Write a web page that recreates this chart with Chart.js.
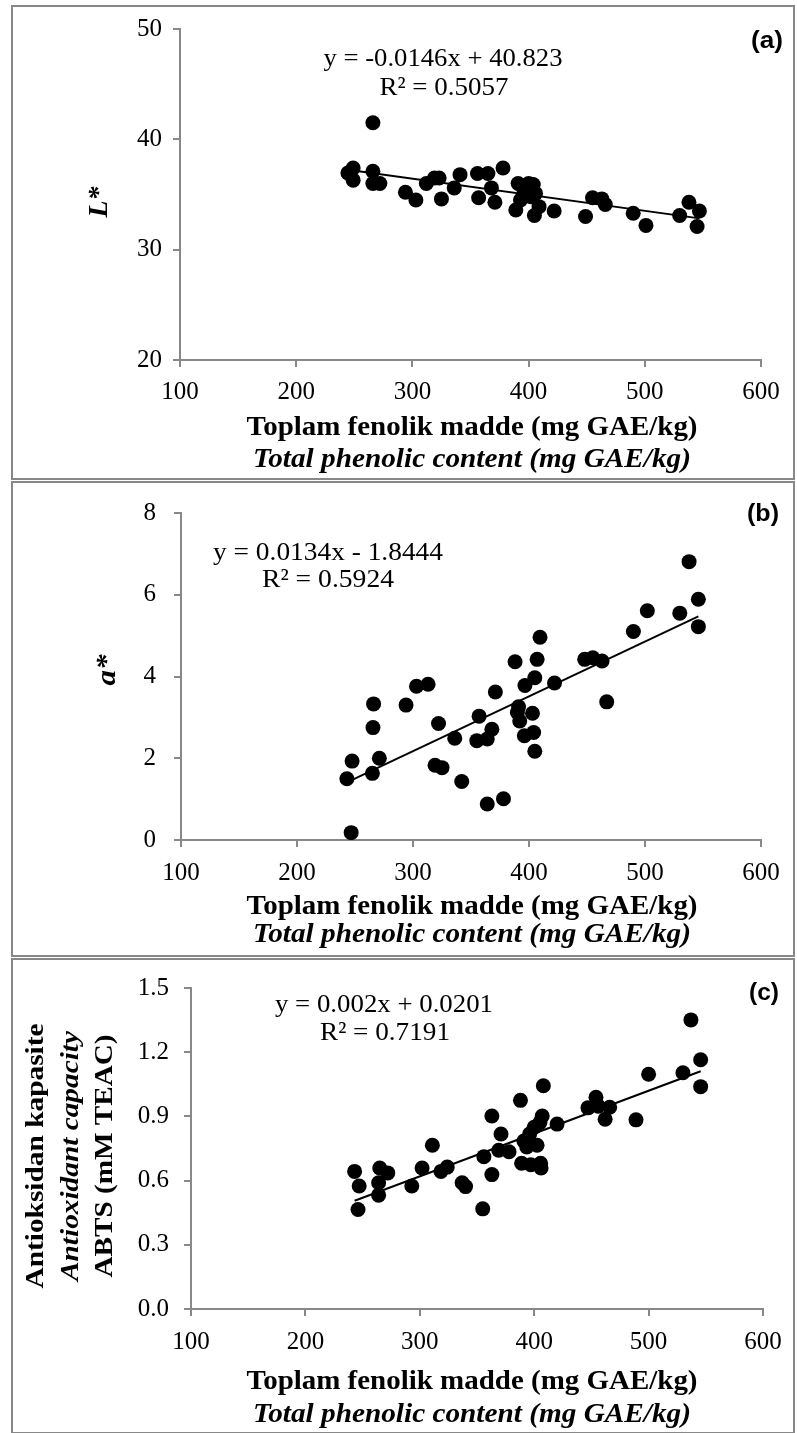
<!DOCTYPE html>
<html>
<head>
<meta charset="utf-8">
<script src="https://cdn.jsdelivr.net/npm/chart.js@4.4.0/dist/chart.umd.min.js"></script>
<style>
  body { margin: 0; background: #fff; width: 797px; height: 1433px; position: relative; overflow: hidden; }
  .box { position: absolute; border: 2px solid #888; box-sizing: border-box; }
  canvas { position: absolute; left: 0; }
</style>
</head>
<body>
<div class="box" style="left:11px;top:5px;width:784px;height:475px"></div>
<div class="box" style="left:11px;top:481px;width:784px;height:476px"></div>
<div class="box" style="left:11px;top:958px;width:784px;height:476px"></div>
<canvas id="chartL" width="797" height="480" style="top:0px"></canvas>
<canvas id="chartA" width="797" height="478" style="top:480px"></canvas>
<canvas id="chartAbts" width="797" height="475" style="top:958px"></canvas>
<script>
// tick labels
const xTicks = [100, 200, 300, 400, 500, 600];
const lTicks = [20, 30, 40, 50];
const aTicks = [0, 2, 4, 6, 8];
const abtsTicks = [0, 0.3, 0.6, 0.9, 1.2, 1.5];

// (a) L* vs total phenolic content
const phenolL = [244.5, 249, 249, 266, 266, 266, 272, 294, 303, 312, 319, 323, 325, 336, 341, 356, 357, 365, 368, 371, 378,
  389, 391, 393, 396, 400, 404, 402, 406, 405, 409, 422, 449, 455, 463, 466, 490, 501, 530, 538, 547, 545];
const lValues = [36.95, 37.4, 36.3, 41.5, 37.1, 36.0, 36.0, 35.2, 34.5, 36.0, 36.5, 36.5, 34.6, 35.6, 36.8, 36.9, 34.7, 36.9, 35.6, 34.3, 37.4,
  33.6, 36.0, 34.5, 35.4, 36.0, 35.9, 34.8, 35.1, 33.1, 33.9, 33.5, 33.0, 34.7, 34.6, 34.1, 33.3, 32.2, 33.1, 34.3, 33.5, 32.1];
const fitL = [-0.0146, 40.823];

// (b) a* vs total phenolic content
const phenolA = [243, 246.7, 247.5, 265, 265.5, 266, 271, 294, 303, 313, 319, 325, 322, 336, 342, 355, 357, 364, 364, 368, 371, 378,
  388, 390, 391, 392, 396, 396.5, 403, 404, 405, 405, 407, 409.5, 422, 448, 455, 463, 467, 490, 502, 530, 538, 546, 546];
const aValues = [1.50, 0.18, 1.93, 1.63, 2.75, 3.33, 2.0, 3.30, 3.76, 3.81, 1.83, 1.77, 2.85, 2.49, 1.43, 2.43, 3.03, 2.47, 0.88, 2.71, 3.62, 1.01,
  4.36, 3.12, 3.26, 2.91, 2.55, 3.78, 3.10, 2.63, 3.97, 2.17, 4.42, 4.96, 3.84, 4.42, 4.46, 4.38, 3.38, 5.10, 5.61, 5.55, 6.81, 5.89, 5.22];
const fitA = [0.0134, -1.8444];

// (c) ABTS vs total phenolic content
const phenolAbts = [243, 247, 246, 264, 265, 264, 272, 293, 302, 311, 318.5, 324, 337, 340, 355, 356, 363, 363, 369, 371, 378,
  388, 389, 391, 393.5, 396, 397, 400, 402.5, 405, 406, 405.6, 407, 408, 420, 447, 454, 456, 462, 466, 489, 500, 530, 537, 545.5, 545.5];
const abtsValues = [0.643, 0.575, 0.465, 0.59, 0.659, 0.532, 0.636, 0.575, 0.659, 0.765, 0.643, 0.663, 0.59, 0.572, 0.468, 0.712, 0.628, 0.902, 0.742, 0.818, 0.735,
  0.975, 0.681, 0.785, 0.757, 0.818, 0.674, 0.849, 0.765, 0.871, 0.659, 0.681, 0.902, 1.043, 0.864, 0.94, 0.989, 0.948, 0.887, 0.943, 0.884, 1.097, 1.104, 1.351, 1.165, 1.039];
const fitAbts = [0.002, 0.0201];

const SERIF = '"Liberation Serif", "Times New Roman", serif';
const AXIS_GREY = "#888";

// text drawn a little wider than the font, like the original figure
function drawText(ctx, t) {
  ctx.save();
  ctx.font = t.font;
  ctx.fillStyle = "#000";
  ctx.textAlign = "center";
  ctx.textBaseline = t.baseline || "middle";
  ctx.translate(t.x, t.y);
  if (t.rotate) ctx.rotate(-Math.PI / 2);
  const w = ctx.measureText(t.text).width;
  ctx.scale(t.width ? t.width / w : 1.15, 1);
  ctx.fillText(t.text, 0, 0);
  ctx.restore();
}

function makeChart(id, xs, ys, fit, yTicks, layout, texts, tickFmt) {
  const ctx = document.getElementById(id).getContext("2d");
  const xmin = Math.min(...xs);
  const xmax = Math.max(...xs);

  return new Chart(ctx, {
    type: "scatter",
    data: {
      datasets: [
        {
          label: "trend",
          data: [xmin, xmax].map((x) => ({ x: x, y: fit[0] * x + fit[1] })),
          showLine: true,
          borderColor: "#000",
          borderWidth: 2,
          pointRadius: 0,
          order: 0,
        },
        {
          label: "samples",
          data: xs.map((x, i) => ({ x: x, y: ys[i] })),
          backgroundColor: "#000",
          borderWidth: 0,
          pointRadius: 7.5,
          order: 1,
        },
      ],
    },
    options: {
      responsive: false,
      animation: false,
      events: [],
      layout: {
        padding: { left: 0, right: layout.right, top: layout.top, bottom: 0 },
      },
      scales: {
        x: {
          type: "linear",
          min: xTicks[0],
          max: xTicks[xTicks.length - 1],
          afterBuildTicks: (s) => { s.ticks = xTicks.map((v) => ({ value: v })); },
          afterFit: (s) => { s.height = layout.xHeight; },
          border: { color: AXIS_GREY, width: 2 },
          grid: { drawOnChartArea: false, tickLength: 7, color: AXIS_GREY, lineWidth: 2 },
          ticks: {
            autoSkip: false,
            maxRotation: 0,
            padding: layout.xPad,
            color: "#000",
            font: { family: SERIF, size: 25 },
          },
        },
        y: {
          min: yTicks[0],
          max: yTicks[yTicks.length - 1],
          afterBuildTicks: (s) => { s.ticks = yTicks.map((v) => ({ value: v })); },
          afterFit: (s) => { s.width = layout.left; },
          border: { color: AXIS_GREY, width: 2 },
          grid: { drawOnChartArea: false, tickLength: 7, color: AXIS_GREY, lineWidth: 2 },
          ticks: {
            padding: layout.yPad,
            color: "#000",
            font: { family: SERIF, size: 25 },
            callback: tickFmt || ((v) => v),
          },
        },
      },
      plugins: {
        legend: { display: false },
        tooltip: { enabled: false },
      },
    },
    plugins: [
      {
        id: "panelText",
        afterDraw: (chart) => {
          texts.forEach((t) => drawText(chart.ctx, t));
        },
      },
    ],
  });
}

const title1 = "Toplam fenolik madde (mg GAE/kg)";
const title2 = "Total phenolic content (mg GAE/kg)";
const eqFont = "26px " + SERIF;
const titleFont = "bold 27px " + SERIF;
const titleItFont = "bold italic 27px " + SERIF;
const tagFont = 'bold 23px "Liberation Sans", Arial, sans-serif';

makeChart("chartL", phenolL, lValues, fitL, lTicks,
  { left: 180, right: 36, top: 29, xHeight: 120, xPad: 10, yPad: 11 },
  [
    { text: "y = -0.0146x + 40.823", x: 443, y: 59, font: eqFont, width: 239 },
    { text: "R² = 0.5057", x: 444, y: 88, font: eqFont, width: 129 },
    { text: "(a)", x: 767, y: 42, font: tagFont, width: 32 },
    { text: "L*", x: 100, y: 202, font: "bold italic 28px " + SERIF, width: 31, rotate: true },
    { text: title1, x: 472, y: 428, font: titleFont, width: 451 },
    { text: title2, x: 472, y: 460, font: titleItFont, width: 438 },
  ]);

makeChart("chartA", phenolA, aValues, fitA, aTicks,
  { left: 181, right: 36, top: 25, xHeight: 118, xPad: 11, yPad: 18 },
  [
    { text: "y = 0.0134x - 1.8444", x: 328, y: 73, font: eqFont, width: 230 },
    { text: "R² = 0.5924", x: 328, y: 100, font: eqFont, width: 132 },
    { text: "(b)", x: 763, y: 35, font: tagFont, width: 32 },
    { text: "a*", x: 108, y: 190, font: "bold italic 28px " + SERIF, width: 31, rotate: true },
    { text: title1, x: 472, y: 427, font: titleFont, width: 451 },
    { text: title2, x: 472, y: 455, font: titleItFont, width: 438 },
  ]);

makeChart("chartAbts", phenolAbts, abtsValues, fitAbts, abtsTicks,
  { left: 191, right: 34, top: 23, xHeight: 124, xPad: 11, yPad: 15 },
  [
    { text: "y = 0.002x + 0.0201", x: 384, y: 47, font: eqFont, width: 218 },
    { text: "R² = 0.7191", x: 385, y: 75, font: eqFont, width: 130 },
    { text: "(c)", x: 764, y: 36, font: tagFont, width: 30 },
    { text: "Antioksidan kapasite", x: 43, y: 198, font: "bold 26px " + SERIF, width: 265, rotate: true, baseline: "alphabetic" },
    { text: "Antioxidant capacity", x: 78, y: 198, font: "bold italic 26px " + SERIF, width: 250, rotate: true, baseline: "alphabetic" },
    { text: "ABTS (mM TEAC)", x: 112, y: 198, font: "bold 25px " + SERIF, width: 243, rotate: true, baseline: "alphabetic" },
    { text: title1, x: 472, y: 424, font: titleFont, width: 451 },
    { text: title2, x: 472, y: 457, font: titleItFont, width: 438 },
  ],
  (v) => v.toFixed(1));
</script>
</body>
</html>
